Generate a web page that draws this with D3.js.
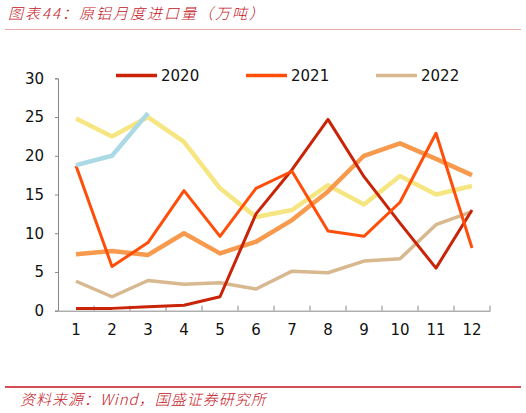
<!DOCTYPE html>
<html>
<head>
<meta charset="utf-8">
<script src="https://cdn.jsdelivr.net/npm/d3@7"></script>
<style>
  body { margin: 0; background: #fff; }
  svg text { font-family: "DejaVu Sans", Verdana, sans-serif; }
</style>
</head>
<body>
<div id="chart"></div>
<script>
const months = [1, 2, 3, 4, 5, 6, 7, 8, 9, 10, 11, 12];
const yTicks = [0, 5, 10, 15, 20, 25, 30];

// legend series
const s2020 = [0.3, 0.3, 0.5, 0.7, 1.8, 12.5, 18.2, 24.7, 17.3, 11.3, 5.5, 13.0];
const s2021 = [18.7, 5.7, 8.8, 15.5, 9.6, 15.8, 18.0, 10.3, 9.6, 14.0, 22.9, 8.1];
const s2022 = [3.8, 1.8, 3.9, 3.4, 3.6, 2.8, 5.1, 4.9, 6.4, 6.7, 11.1, 12.8];
// unlabeled series in the figure
const sOrange = [7.3, 7.7, 7.2, 10.0, 7.4, 8.9, 11.7, 15.4, 20.0, 21.6, 19.6, 17.5];
const sYellow = [24.8, 22.5, 25.0, 21.8, 15.8, 12.1, 13.0, 16.2, 13.7, 17.4, 15.0, 16.1];
const sBlue = [18.8, 20.0, 25.5];

const series = [
    { name: null, values: sYellow, color: "#f6e681", width: 4.5 },
    { name: null, values: sOrange, color: "#f79a4e", width: 4.5 },
    { name: "2022", values: s2022, color: "#d8b88e", width: 3.5 },
    { name: "2020", values: s2020, color: "#c92308", width: 3 },
    { name: "2021", values: s2021, color: "#ff4e0a", width: 3 },
    { name: null, values: sBlue, color: "#acd9e6", width: 4.5 }
];
const legendOrder = ["2020", "2021", "2022"];

const W = 526, H = 413;
const svg = d3.select("#chart").append("svg")
    .attr("width", W)
    .attr("height", H);

// header
svg.append("text")
    .attr("x", 8)
    .attr("y", 19)
    .attr("fill", "#c4141c")
    .style("font-style", "italic")
    .style("font-size", "15px")
    .style("font-weight", 300)
    .style("letter-spacing", "2px")
    .style("font-family", "'Noto Sans CJK SC', sans-serif")
    .text("图表44：原铝月度进口量（万吨）");
svg.append("line")
    .attr("x1", 5).attr("x2", 521)
    .attr("y1", 29.5).attr("y2", 29.5)
    .attr("stroke", "#e7a9a9")
    .attr("stroke-width", 1);

// footer
svg.append("line")
    .attr("x1", 5).attr("x2", 521)
    .attr("y1", 387).attr("y2", 387)
    .attr("stroke", "#c4141c")
    .attr("stroke-width", 1.5);
svg.append("text")
    .attr("x", 20)
    .attr("y", 405)
    .attr("fill", "#c4141c")
    .style("font-style", "italic")
    .style("font-size", "15px")
    .style("font-weight", 300)
    .style("letter-spacing", "1px")
    .style("font-family", "'Noto Sans CJK SC', sans-serif")
    .text("资料来源：Wind，国盛证券研究所");

const plot = { left: 58, right: 490, top: 78.3, bottom: 310.7 };

const x = d3.scaleBand()
    .domain(months)
    .range([plot.left, plot.right]);

const y = d3.scaleLinear()
    .domain([0, 30])
    .range([plot.bottom, plot.top]);

//x axis
const xAxis = svg.append("g")
    .attr("transform", `translate(0,${plot.bottom})`)
    .call(d3.axisBottom(x).tickSize(0).tickPadding(14));
xAxis.select(".domain").attr("stroke", "#888");
xAxis.selectAll("text").style("font-size", "15px").attr("fill", "#111");
// tick marks between bands, pointing up
svg.append("g")
    .selectAll("line")
    .data(months)
    .join("line")
        .attr("x1", d => x(d) + x.bandwidth())
        .attr("x2", d => x(d) + x.bandwidth())
        .attr("y1", plot.bottom)
        .attr("y2", plot.bottom - 5)
        .attr("stroke", "#888");

//y axis
const yAxis = svg.append("g")
    .attr("transform", `translate(${plot.left},0)`)
    .call(d3.axisLeft(y).tickValues(yTicks).tickSize(3).tickPadding(11));
yAxis.select(".domain").attr("stroke", "#888");
yAxis.selectAll(".tick line").attr("stroke", "#888");
yAxis.selectAll("text").style("font-size", "15px").attr("fill", "#111");

const line = d3.line()
    .x((d, i) => x(months[i]) + x.bandwidth() / 2)
    .y(d => y(d));

svg.append("g")
    .selectAll("path")
    .data(series)
    .join("path")
        .attr("d", d => line(d.values))
        .attr("fill", "none")
        .attr("stroke", d => d.color)
        .attr("stroke-width", d => d.width)
        .attr("stroke-linejoin", "round");

// legend
const legendX = [116, 246, 376];
const legend = svg.append("g")
    .selectAll("g")
    .data(legendOrder.map(n => series.find(s => s.name === n)))
    .join("g")
        .attr("transform", (d, i) => `translate(${legendX[i]},75.5)`);
legend.append("line")
    .attr("x1", 0).attr("x2", 41)
    .attr("stroke", d => d.color)
    .attr("stroke-width", 3.5);
legend.append("text")
    .attr("x", 45)
    .attr("y", 5)
    .style("font-size", "15px")
    .attr("fill", "#111")
    .text(d => d.name);
</script>
</body>
</html>
